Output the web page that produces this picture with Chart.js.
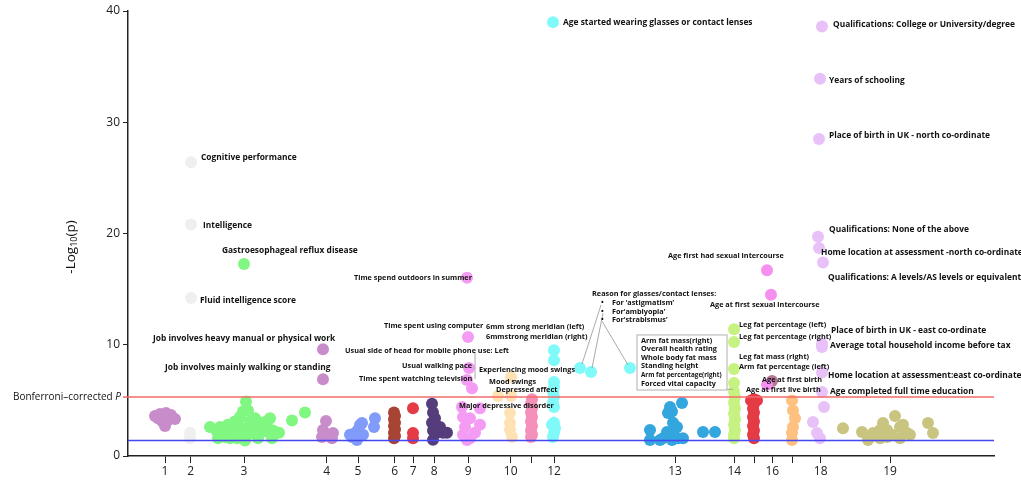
<!DOCTYPE html>
<html><head><meta charset="utf-8">
<script src="https://cdn.jsdelivr.net/npm/chart.js@4.4.1/dist/chart.umd.min.js"></script>
<style>html,body{margin:0;padding:0;background:#fff}</style>
</head><body>
<canvas id="c" width="1021" height="483"></canvas>
<script>
// ---- axis definitions ----
const xMax = 866;
const chromPos = [37,62.7,116,198.7,230,266.7,285.3,306.3,340.3,382.7,403.7,426,547,606.3,626,644.3,664.7,692.7,762];
const chromLabels = ['1','2','3','4','5','6','7','8','9','10','','12','13','14','','16','','18','19'];
const yTicks = [0,10,20,30,40];
const bonferroniP = 5.3;
const nominalP = 1.4;

// ---- series: [position, -log10(p)] ----
const chr1 = [[27,3.6],[32,3.78],[38,3.87],[43,3.69],[47,3.33],[40,3.24],[34,3.15],[37,2.7],[30,3.4]];
const chr2 = [[63,26.4],[63,20.8],[63,14.2],[62,2.1],[62,1.6]];
const chr3 = [[116,17.26],[82,2.6],[90,1.6],[92,2.6],[97,1.7],[100,2.8],[104,2.2],[107,3.1],[109,1.6],[112,3.5],[114,2.5],[115,4.0],[117,1.4],[118,4.9],[120,4.1],[122,3.1],[124,2.1],[125,2.6],[127,3.4],[130,1.6],[134,3.0],[139,2.2],[140,3.2],[142,3.4],[144,1.6],[145,2.3],[151,2.1],[164,3.2],[177,3.9],[102,1.6],[119,1.9],[110,2.8],[129,2.5],[132,2.1],[89,2.2],[95,2.3]];
const chr4 = [[195,9.6],[195,6.9],[198,3.15],[195,2.34],[205,2.07],[194,1.7],[204,1.6]];
const chr5 = [[224,1.7],[227,2.07],[230,2.34],[232,2.79],[234,2.97],[229,1.44],[235,1.9],[222,1.9],[247,3.4],[246,2.6]];
const chr6 = [[266,3.9],[267,3.6],[266,3.3],[267,3.0],[266,2.7],[267,2.4],[266,2.1],[267,1.8],[266,1.6]];
const chr7 = [[285,4.3],[285,2.07],[285,1.6]];
const chr8 = [[304,4.7],[305,3.9],[304,3.0],[305,2.3],[309,2.1],[315,2.1],[319,2.1],[305,1.45],[307,3.4],[312,2.6]];
const chr9 = [[339,16.03],[340,10.7],[341,7.9],[339,6.83],[344,6.1],[334,4.4],[352,4.3],[335,3.5],[342,3.4],[337,2.6],[352,2.8],[335,1.9],[342,1.6],[347,2.1],[339,1.44]];
const chr10 = [[383,7.1],[370,5.4],[383,5.4],[382,3.87],[382,2.97],[382,2.34],[384,1.7]];
const chr11 = [[404,5.1],[403,4.7],[404,4.3],[403,3.9],[404,3.5],[403,3.1],[404,2.7],[403,2.3],[404,1.9],[403,1.7]];
const chr12 = [[425,39.0],[426,9.5],[426,8.6],[426,6.65],[426,6.2],[425,5.75],[426,5.3],[425,4.8],[426,4.4],[426,3.0],[424,2.8],[427,2.5],[426,2.1],[425,1.7],[452,7.9],[463,7.55],[502,7.9]];
const chr13 = [[522,2.34],[522,1.44],[535,1.6],[540,3.87],[542,4.4],[544,4.0],[554,4.76],[545,3.0],[539,2.15],[545,2.07],[550,1.6],[555,1.6],[549,2.6],[575,2.15],[587,2.15],[532,1.44],[544,1.44]];
const chr14 = [[606,11.4],[606,10.25],[606,7.82],[606,6.56],[606,5.8],[607,5.3],[606,4.8],[607,4.3],[606,3.8],[607,3.3],[606,2.8],[607,2.3],[606,1.9],[606,1.6]];
const chr15 = [[626,5.1],[623,5.0],[629,5.0],[626,4.7],[625,4.3],[626,3.9],[625,3.5],[626,3.1],[625,2.7],[626,2.3],[625,1.9],[626,1.6]];
const chr16 = [[639,16.7],[643,14.5],[639,6.4]];
const chr16b = [[644,6.75]];
const chr17 = [[664,5.0],[665,4.1],[667,3.4],[665,2.6],[664,2.1],[664,1.44]];
const chr18 = [[694,38.6],[692,33.9],[691,28.5],[690,19.7],[691,18.7],[695,17.4],[694,10.1],[694,9.8],[694,7.5],[694,5.75],[696,4.4],[685,3.06],[689,2.07],[692,1.6]];
const chr19 = [[715,2.5],[734,2.15],[742,1.7],[745,2.07],[752,2.34],[755,2.97],[759,2.34],[767,3.6],[764,1.9],[772,2.6],[775,2.8],[779,2.07],[782,1.9],[772,1.6],[752,1.6],[740,1.44],[800,2.97],[805,2.07],[759,1.7]];

const series = [
  [chr1,'#c98ccb'],[chr2,'#efefef'],[chr3,'#80f780'],[chr4,'#c98ccb'],[chr5,'#809bf9'],
  [chr6,'#a84434'],[chr7,'#e53b45'],[chr8,'#553c7b'],[chr9,'#f49cf4'],[chr10,'#fee2b4'],
  [chr11,'#f590ba'],[chr12,'#80f9f9'],[chr13,'#33a6de'],[chr14,'#c6f281'],[chr15,'#e53b45'],
  [chr16,'#f590f0'],[chr16b,'#b47896'],[chr17,'#fec180'],[chr18,'#e9c1f9'],[chr19,'#c9c580']
];

// ---- annotation texts: [text, position, -log10(p), size class] ----
const labels = [
  ['Cognitive performance',73,26.79,'L'],
  ['Intelligence',75,20.67,'L'],
  ['Gastroesophageal reflux disease',94,18.43,'L'],
  ['Fluid intelligence score',72,13.93,'L'],
  ['Job involves heavy manual or physical work',25,10.52,'L'],
  ['Job involves mainly walking or standing',37,7.91,'L'],
  ['Time spend outdoors in summer',226,16.0,'M'],
  ['Time spent using computer',256,11.69,'M'],
  ['6mm strong meridian (left)',358,11.6,'M'],
  ['6mmstrong meridian (right)',358,10.7,'M'],
  ['Usual side of head for mobile phone use: Left',217,9.44,'M'],
  ['Usual walking pace',274,8.09,'M'],
  ['Experiencing mood swings',351,7.73,'M'],
  ['Time spent watching television',231,6.92,'M'],
  ['Mood swings',361,6.65,'M'],
  ['Depressed affect',368,5.93,'M'],
  ['Major depressive disorder',331,4.49,'M'],
  ['Age started wearing glasses or contact lenses',435,38.92,'L'],
  ['Reason for glasses/contact lenses:',464,14.56,'S'],
  ['\u2022',473,13.75,'S'],['For \u2018astigmatism\u2019',484,13.75,'S'],
  ['\u2022',473,12.94,'S'],['For\u2018amblyopia\u2019',484,12.94,'S'],
  ['\u2022',473,12.22,'S'],['For\u2018strabismus\u2019',484,12.22,'S'],
  ['Arm fat mass(right)',513,10.34,'M'],
  ['Overall health rating',513,9.62,'M'],
  ['Whole body fat mass',513,8.81,'M'],
  ['Standing height',513,8.09,'M'],
  ['Arm fat percentage(right)',513,7.28,'T'],
  ['Forced vital capacity',513,6.47,'M'],
  ['Age first had sexual intercourse',540,17.98,'S'],
  ['Age at first sexual intercourse',582,13.57,'S'],
  ['Leg fat percentage (left)',611,11.78,'S'],
  ['Leg fat percentage (right)',611,10.7,'S'],
  ['Leg fat mass (right)',611,8.9,'S'],
  ['Arm fat percentage (left)',611,8.0,'S'],
  ['Age at first birth',634,6.83,'S'],
  ['Age at first live birth',618,5.93,'S'],
  ['Qualifications: College or University/degree',705,38.74,'L'],
  ['Years of schooling',701,33.7,'L'],
  ['Place of birth in UK - north co-ordinate',701,28.76,'L'],
  ['Qualifications: None of the above',701,20.31,'L'],
  ['Home location at assessment -north co-ordinate',693,18.25,'L'],
  ['Qualifications: A levels/AS levels or equivalent',700,16.0,'L'],
  ['Place of birth in UK - east co-ordinate',703,11.24,'L'],
  ['Average total household income before tax',702,9.89,'L'],
  ['Home location at assessment:east co-ordinate',700,7.19,'L'],
  ['Age completed full time education',702,5.75,'L']
];
// connector lines: [x1,y1,x2,y2]
const connectors = [[347,9.26,347,6.9],[473,13.57,454,8.27],[475,12.85,464,7.9],[474,12.13,500,8.18],[599,6.0,605,6.0]];
const boxRange = [509,10.88,599,5.93];

const sizes = {L:8.4,M:7.3,S:7.3,T:6.3};
const FONT = '"Open Sans", "Noto Sans", sans-serif';

const datasets = series.map(([d,c]) => ({
  type:'scatter', data:d.map(p=>({x:p[0],y:p[1]})), backgroundColor:c, borderWidth:0,
  pointRadius:6, pointHoverRadius:6, order:2
}));
datasets.push({type:'line', data:[{x:0,y:bonferroniP},{x:xMax,y:bonferroniP}], borderColor:'#f26b6b', borderWidth:1.6, pointRadius:0, order:0});
datasets.push({type:'line', data:[{x:0,y:nominalP},{x:xMax,y:nominalP}], borderColor:'#4646f2', borderWidth:1.6, pointRadius:0, order:0});

const overlay = {
  id:'overlay',
  afterDraw(chart){
    const ctx = chart.ctx, xs = chart.scales.x, ys = chart.scales.y;
    const X = v => xs.getPixelForValue(v), Y = v => ys.getPixelForValue(v);
    ctx.save();
    // connectors
    ctx.strokeStyle = '#a0a0a0'; ctx.lineWidth = 0.9;
    connectors.forEach(([a,b,c,d]) => { ctx.beginPath(); ctx.moveTo(X(a),Y(b)); ctx.lineTo(X(c),Y(d)); ctx.stroke(); });
    // box
    ctx.strokeStyle = '#b0b0b0'; ctx.lineWidth = 1;
    ctx.strokeRect(X(boxRange[0]), Y(boxRange[1]), X(boxRange[2])-X(boxRange[0]), Y(boxRange[3])-Y(boxRange[1]));
    // labels
    ctx.fillStyle = '#111'; ctx.textBaseline = 'middle'; ctx.textAlign = 'left';
    labels.forEach(([t,x,y,s]) => { ctx.font = `bold ${sizes[s]}px ${FONT}`; ctx.fillText(t, X(x), Y(y)); });
    // Bonferroni label (fitted between left margin and axis)
    const by = Y(bonferroniP);
    const left = 13, right = 121;
    ctx.font = `italic 12px ${FONT}`;
    let pw = ctx.measureText('P').width;
    ctx.font = `12px ${FONT}`;
    let bw = ctx.measureText('Bonferroni\u2013corrected ').width;
    const k = (right - left) / (pw + bw);
    const fs = 12 * k;
    ctx.textAlign = 'left'; ctx.fillStyle = '#111';
    ctx.font = `${fs}px ${FONT}`;
    ctx.fillText('Bonferroni\u2013corrected ', left, by);
    ctx.font = `italic ${fs}px ${FONT}`;
    ctx.fillText('P', left + bw * k, by);
    ctx.strokeStyle = '#f26b6b'; ctx.lineWidth = 1.6;
    ctx.beginPath(); ctx.moveTo(123, by); ctx.lineTo(X(0), by); ctx.stroke();
    // y title
    ctx.translate(71, 247); ctx.rotate(-Math.PI/2);
    ctx.textAlign = 'left'; ctx.textBaseline = 'alphabetic'; ctx.fillStyle = '#111';
    const parts = [['-Log',13.5,0],['10',9,2],['(p)',13.5,0]];
    let total = 0;
    parts.forEach(([t,s]) => { ctx.font = `${s}px ${FONT}`; total += ctx.measureText(t).width; });
    let cx = -total/2;
    parts.forEach(([t,s,dy]) => { ctx.font = `${s}px ${FONT}`; ctx.fillText(t, cx, 4+dy); cx += ctx.measureText(t).width; });
    ctx.restore();
  }
};

new Chart(document.getElementById('c'), {
  data:{datasets},
  options:{
    responsive:false, animation:false, devicePixelRatio:1,
    layout:{padding:{top:11,right:27,left:0,bottom:0}},
    plugins:{legend:{display:false}, tooltip:{enabled:false}},
    scales:{
      x:{type:'linear', min:0, max:xMax, position:'bottom',
         afterBuildTicks: s => { s.ticks = chromPos.map(v=>({value:v})); },
         afterFit: s => { s.height = 27; },
         ticks:{autoSkip:false, maxRotation:0, padding:1, color:'#222', font:{size:12, family:FONT},
                callback:(v,i)=>chromLabels[i]},
         grid:{drawOnChartArea:false, drawTicks:true, tickLength:7, color:'#222', lineWidth:1},
         border:{display:true, color:'#222', width:1.5}},
      y:{type:'linear', min:0, max:40,
         afterBuildTicks: s => { s.ticks = yTicks.map(v=>({value:v})); },
         afterFit: s => { s.width = 128; },
         ticks:{padding:3, color:'#222', font:{size:12, family:FONT}},
         grid:{drawOnChartArea:false, drawTicks:true, tickLength:5, color:'#222', lineWidth:1},
         border:{display:true, color:'#222', width:1.5}}
    }
  },
  plugins:[overlay]
});
</script>
</body></html>
